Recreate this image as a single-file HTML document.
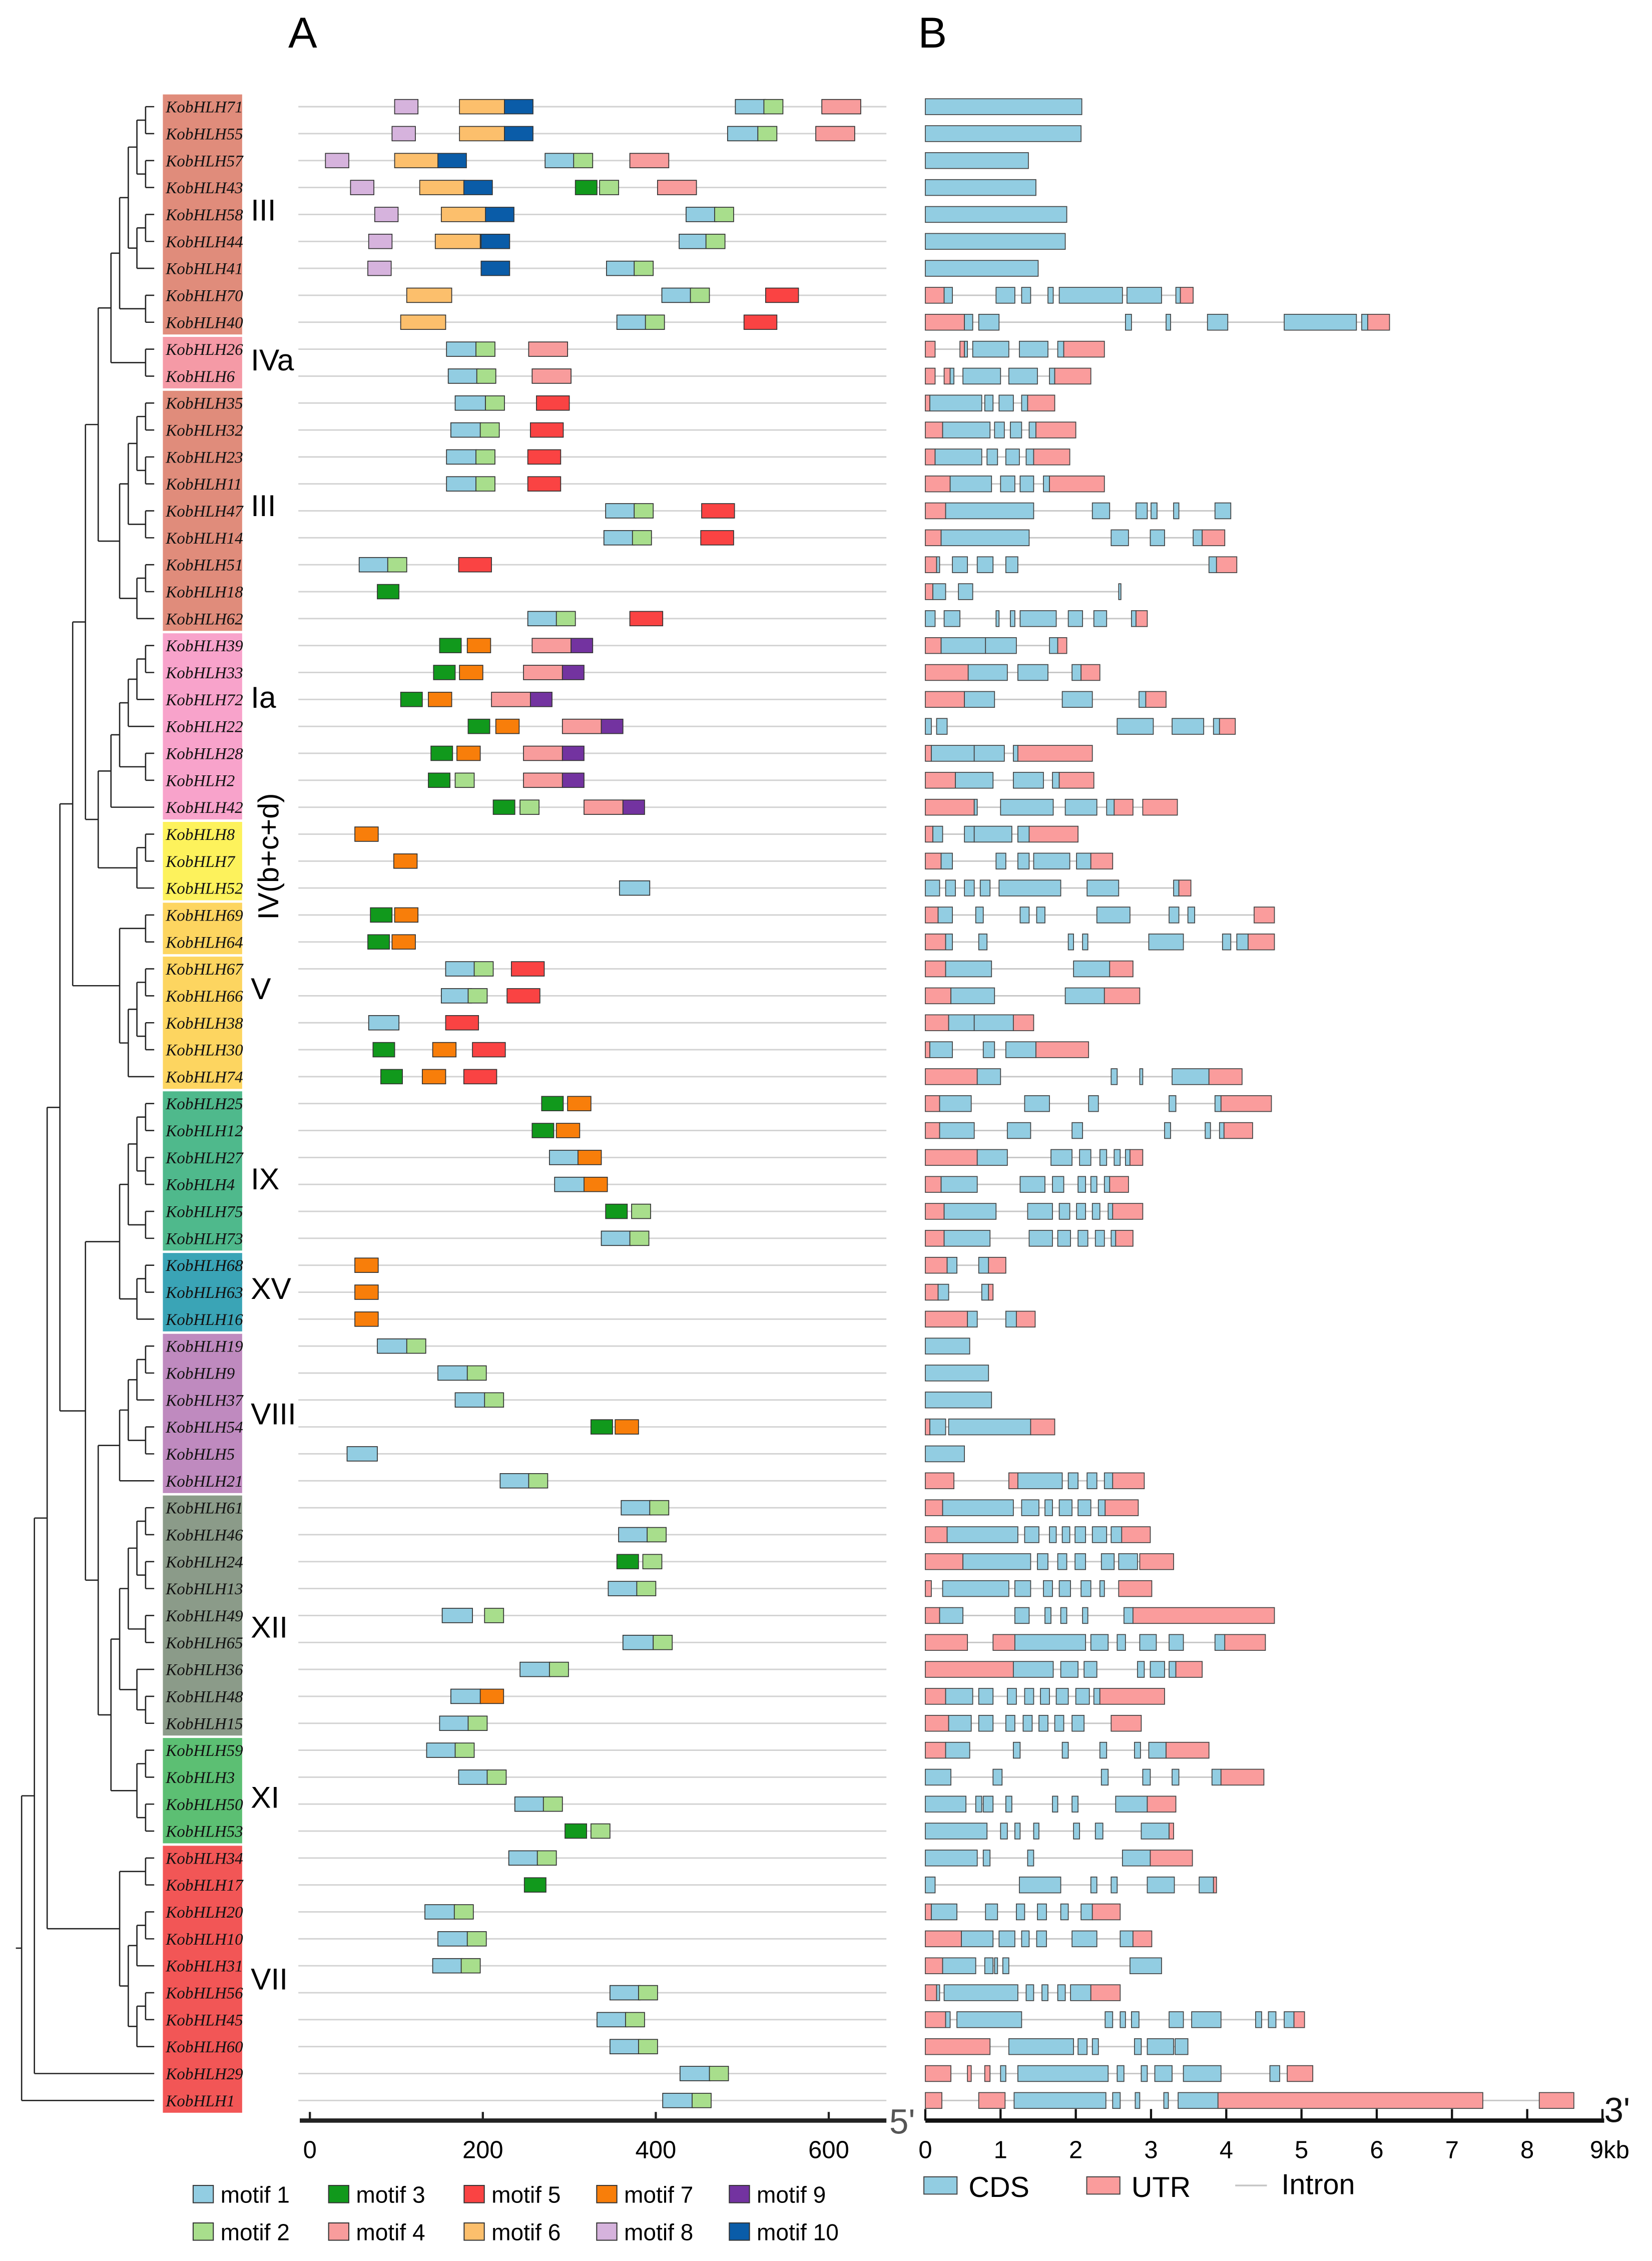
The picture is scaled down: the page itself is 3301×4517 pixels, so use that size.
<!DOCTYPE html>
<html><head><meta charset="utf-8"><style>
html,body{margin:0;padding:0;background:#fff;}
svg{display:block;}
</style></head><body>
<svg id="fig" xmlns="http://www.w3.org/2000/svg" width="3301" height="4517" viewBox="0 0 1146.18 1568.4">
<rect x="0" y="0" width="1146.18" height="1568.4" fill="#fff"/>
<g id="tree"></g>
<g id="labels"></g>
<g id="motifs"></g>
<g id="genes"></g>
<g id="static">
<text x="200" y="33" font-family="Liberation Sans, sans-serif" font-size="30">A</text>
<text x="637" y="33" font-family="Liberation Sans, sans-serif" font-size="30">B</text>
</g>
</svg>
<script>
const NS="http://www.w3.org/2000/svg";
const names=["KobHLH71","KobHLH55","KobHLH57","KobHLH43","KobHLH58","KobHLH44","KobHLH41","KobHLH70","KobHLH40","KobHLH26","KobHLH6","KobHLH35","KobHLH32","KobHLH23","KobHLH11","KobHLH47","KobHLH14","KobHLH51","KobHLH18","KobHLH62","KobHLH39","KobHLH33","KobHLH72","KobHLH22","KobHLH28","KobHLH2","KobHLH42","KobHLH8","KobHLH7","KobHLH52","KobHLH69","KobHLH64","KobHLH67","KobHLH66","KobHLH38","KobHLH30","KobHLH74","KobHLH25","KobHLH12","KobHLH27","KobHLH4","KobHLH75","KobHLH73","KobHLH68","KobHLH63","KobHLH16","KobHLH19","KobHLH9","KobHLH37","KobHLH54","KobHLH5","KobHLH21","KobHLH61","KobHLH46","KobHLH24","KobHLH13","KobHLH49","KobHLH65","KobHLH36","KobHLH48","KobHLH15","KobHLH59","KobHLH3","KobHLH50","KobHLH53","KobHLH34","KobHLH17","KobHLH20","KobHLH10","KobHLH31","KobHLH56","KobHLH45","KobHLH60","KobHLH29","KobHLH1"];
const groupNames=["III","IVa","III","Ia","IVb","IVc","V","IX","XV","VIII","XII","XI","VII"];
const groupRanges=[[0,8],[9,10],[11,19],[20,26],[27,29],[30,31],[32,36],[37,42],[43,45],[46,51],[52,60],[61,64],[65,74]];
const groupColors=["#e08c7b","#f59aa6","#e08c7b","#f8a3cb","#fdf25c","#fdd560","#fdd560","#4fb98c","#3aa4b6","#bf8abf","#8b9b89","#5cbf73","#f25656"];
const groupTitles=[["III",145],["IVa",249],["III",350],["Ia",483],["V",685],["IX",817],["XV",893],["VIII",980],["XII",1128],["XI",1246],["VII",1372]];
const motifColors=["#92cde2","#a8de8c","#11991c","#f89c9c","#fa4343","#fcbf6c","#f87e0a","#d6b3dd","#7333a0","#0a5ca8"];
const motifLen=[35,22,25,45,38,52,27,27,25,33];
const motifs=[
[[8,98],[6,173],[10,225],[1,492],[2,525],[4,592]],
[[8,95],[6,173],[10,225],[1,483],[2,518],[4,585]],
[[8,18],[6,98],[10,148],[1,272],[2,305],[4,370]],
[[8,47],[6,127],[10,178],[3,307],[2,335],[4,402]],
[[8,75],[6,152],[10,203],[1,435],[2,468]],
[[8,68],[6,145],[10,198],[1,427],[2,458]],
[[8,67],[10,198],[1,343],[2,375]],
[[6,112],[1,407],[2,440],[5,527]],
[[6,105],[1,355],[2,388],[5,502]],
[[1,158],[2,192],[4,253]],
[[1,160],[2,193],[4,257]],
[[1,168],[2,203],[5,262]],
[[1,163],[2,197],[5,255]],
[[1,158],[2,192],[5,252]],
[[1,158],[2,192],[5,252]],
[[1,342],[2,375],[5,453]],
[[1,340],[2,373],[5,452]],
[[1,57],[2,90],[5,172]],
[[3,78]],
[[1,252],[2,285],[5,370]],
[[3,150],[7,182],[4,257],[9,302]],
[[3,143],[7,173],[4,247],[9,292]],
[[3,105],[7,137],[4,210],[9,255]],
[[3,183],[7,215],[4,292],[9,337]],
[[3,140],[7,170],[4,247],[9,292]],
[[3,137],[2,168],[4,247],[9,292]],
[[3,212],[2,243],[4,317],[9,362]],
[[7,52]],
[[7,97]],
[[1,358]],
[[3,70],[7,98]],
[[3,67],[7,95]],
[[1,157],[2,190],[5,233]],
[[1,152],[2,183],[5,228]],
[[1,68],[5,157]],
[[3,73],[7,142],[5,188]],
[[3,82],[7,130],[5,178]],
[[3,268],[7,298]],
[[3,257],[7,285]],
[[1,277],[7,310]],
[[1,283],[7,317]],
[[3,342],[2,372]],
[[1,337],[2,370]],
[[7,52]],
[[7,52]],
[[7,52]],
[[1,78],[2,112]],
[[1,148],[2,182]],
[[1,168],[2,202]],
[[3,325],[7,353]],
[[1,43]],
[[1,220],[2,253]],
[[1,360],[2,393]],
[[1,357],[2,390]],
[[3,355],[2,385]],
[[1,345],[2,378]],
[[1,153],[2,202]],
[[1,362],[2,397]],
[[1,243],[2,277]],
[[1,163],[7,197]],
[[1,150],[2,183]],
[[1,135],[2,168]],
[[1,172],[2,205]],
[[1,237],[2,270]],
[[3,295],[2,325]],
[[1,230],[2,263]],
[[3,248]],
[[1,133],[2,167]],
[[1,148],[2,182]],
[[1,142],[2,175]],
[[1,347],[2,380]],
[[1,332],[2,365]],
[[1,347],[2,380]],
[[1,428],[2,462]],
[[1,408],[2,442]]];
const genes=[
[["C",0,2.08]],[["C",0,2.07]],[["C",0,1.37]],[["C",0,1.47]],[["C",0,1.88]],[["C",0,1.86]],[["C",0,1.5]],
[["U",0,0.25],["C",0.25,0.36],["C",0.94,1.19],["C",1.28,1.4],["C",1.63,1.7],["C",1.78,2.62],["C",2.68,3.14],["C",3.33,3.39],["U",3.39,3.56]],
[["U",0,0.52],["C",0.52,0.63],["C",0.71,0.98],["C",2.66,2.74],["C",3.2,3.26],["C",3.75,4.02],["C",4.77,5.73],["C",5.8,5.88],["U",5.88,6.17]],
[["U",0,0.13],["U",0.46,0.52],["C",0.52,0.56],["C",0.63,1.11],["C",1.25,1.63],["C",1.76,1.84],["U",1.84,2.38]],
[["U",0,0.13],["U",0.25,0.33],["C",0.33,0.38],["C",0.5,1.0],["C",1.11,1.49],["C",1.65,1.72],["U",1.72,2.2]],
[["U",0,0.06],["C",0.06,0.75],["C",0.79,0.9],["C",0.98,1.17],["C",1.28,1.36],["U",1.36,1.72]],
[["U",0,0.23],["C",0.23,0.86],["C",0.92,1.05],["C",1.13,1.28],["C",1.38,1.47],["U",1.47,2.0]],
[["U",0,0.13],["C",0.13,0.75],["C",0.82,0.96],["C",1.07,1.25],["C",1.34,1.44],["U",1.44,1.92]],
[["U",0,0.33],["C",0.33,0.88],["C",1.0,1.19],["C",1.26,1.44],["C",1.57,1.65],["U",1.65,2.38]],
[["U",0,0.27],["C",0.27,1.44],["C",2.22,2.45],["C",2.8,2.95],["C",3.0,3.08],["C",3.3,3.37],["C",3.85,4.06]],
[["U",0,0.21],["C",0.21,1.38],["C",2.47,2.7],["C",2.99,3.18],["C",3.56,3.68],["U",3.68,3.98]],
[["U",0,0.15],["C",0.15,0.19],["C",0.36,0.56],["C",0.69,0.9],["C",1.07,1.23],["C",3.77,3.87],["U",3.87,4.14]],
[["U",0,0.1],["C",0.1,0.27],["C",0.44,0.63],["C",2.57,2.6]],
[["C",0,0.13],["C",0.25,0.46],["C",0.94,0.98],["C",1.13,1.19],["C",1.26,1.74],["C",1.9,2.09],["C",2.24,2.41],["C",2.74,2.8],["U",2.8,2.95]],
[["U",0,0.21],["C",0.21,0.8],["C",0.8,1.21],["C",1.65,1.76],["U",1.76,1.88]],
[["U",0,0.57],["C",0.57,1.09],["C",1.23,1.63],["C",1.95,2.07],["U",2.07,2.32]],
[["U",0,0.52],["C",0.52,0.92],["C",1.82,2.22],["C",2.84,2.93],["U",2.93,3.2]],
[["C",0,0.08],["C",0.15,0.29],["C",2.55,3.03],["C",3.28,3.7],["C",3.83,3.91],["U",3.91,4.12]],
[["U",0,0.08],["C",0.08,0.65],["C",0.65,1.05],["C",1.17,1.23],["U",1.23,2.22]],
[["U",0,0.4],["C",0.4,0.9],["C",1.17,1.57],["C",1.69,1.78],["U",1.78,2.24]],
[["U",0,0.65],["C",0.65,0.69],["C",1.0,1.7],["C",1.86,2.28],["C",2.41,2.51],["U",2.51,2.76],["U",2.89,3.35]],
[["U",0,0.1],["C",0.1,0.23],["C",0.52,0.65],["C",0.65,1.15],["C",1.23,1.38],["U",1.38,2.03]],
[["U",0,0.21],["C",0.21,0.36],["C",0.94,1.07],["C",1.23,1.38],["C",1.44,1.92],["C",2.01,2.2],["U",2.2,2.49]],
[["C",0,0.19],["C",0.27,0.4],["C",0.52,0.65],["C",0.73,0.86],["C",0.98,1.8],["C",2.15,2.57],["C",3.3,3.37],["U",3.37,3.53]],
[["U",0,0.17],["C",0.17,0.36],["C",0.67,0.77],["C",1.26,1.38],["C",1.48,1.59],["C",2.28,2.72],["C",3.24,3.37],["C",3.49,3.58],["U",4.37,4.64]],
[["U",0,0.27],["C",0.27,0.36],["C",0.71,0.82],["C",1.9,1.97],["C",2.09,2.16],["C",2.97,3.43],["C",3.95,4.06],["C",4.14,4.29],["U",4.29,4.64]],
[["U",0,0.27],["C",0.27,0.88],["C",1.97,2.45],["U",2.45,2.76]],
[["U",0,0.34],["C",0.34,0.92],["C",1.86,2.38],["U",2.38,2.85]],
[["U",0,0.31],["C",0.31,0.65],["C",0.65,1.17],["U",1.17,1.44]],
[["U",0,0.06],["C",0.06,0.36],["C",0.77,0.92],["C",1.07,1.47],["U",1.47,2.17]],
[["U",0,0.69],["C",0.69,1.0],["C",2.47,2.55],["C",2.85,2.89],["C",3.28,3.77],["U",3.77,4.21]],
[["U",0,0.19],["C",0.19,0.61],["C",1.32,1.65],["C",2.17,2.3],["C",3.24,3.33],["C",3.85,3.93],["U",3.93,4.6]],
[["U",0,0.19],["C",0.19,0.65],["C",1.09,1.4],["C",1.95,2.09],["C",3.18,3.26],["C",3.72,3.79],["C",3.91,3.97],["U",3.97,4.35]],
[["U",0,0.69],["C",0.69,1.09],["C",1.67,1.95],["C",2.05,2.2],["C",2.32,2.41],["C",2.51,2.59],["C",2.66,2.72],["U",2.72,2.89]],
[["U",0,0.21],["C",0.21,0.69],["C",1.26,1.59],["C",1.69,1.84],["C",2.03,2.13],["C",2.2,2.28],["C",2.38,2.45],["U",2.45,2.7]],
[["U",0,0.25],["C",0.25,0.94],["C",1.36,1.69],["C",1.78,1.92],["C",2.01,2.13],["C",2.22,2.32],["C",2.43,2.49],["U",2.49,2.89]],
[["U",0,0.25],["C",0.25,0.86],["C",1.38,1.69],["C",1.76,1.93],["C",2.03,2.16],["C",2.26,2.38],["C",2.47,2.53],["U",2.53,2.76]],
[["U",0,0.29],["C",0.29,0.42],["C",0.71,0.84],["U",0.84,1.07]],
[["U",0,0.17],["C",0.17,0.31],["C",0.75,0.84],["U",0.84,0.9]],
[["U",0,0.56],["C",0.56,0.69],["C",1.07,1.21],["U",1.21,1.46]],
[["C",0,0.59]],[["C",0,0.84]],[["C",0,0.88]],
[["U",0,0.06],["C",0.06,0.27],["C",0.31,1.4],["U",1.4,1.72]],
[["C",0,0.52]],
[["U",0,0.38],["U",1.11,1.23],["C",1.23,1.82],["C",1.9,2.03],["C",2.15,2.28],["C",2.38,2.49],["U",2.49,2.91]],
[["U",0,0.23],["C",0.23,1.17],["C",1.28,1.51],["C",1.59,1.69],["C",1.78,1.95],["C",2.03,2.2],["C",2.3,2.39],["U",2.39,2.83]],
[["U",0,0.29],["C",0.29,1.23],["C",1.32,1.51],["C",1.65,1.74],["C",1.82,1.92],["C",1.99,2.13],["C",2.22,2.41],["C",2.47,2.61],["U",2.61,2.99]],
[["U",0,0.5],["C",0.5,1.4],["C",1.49,1.63],["C",1.76,1.88],["C",1.99,2.13],["C",2.34,2.51],["C",2.57,2.82],["U",2.85,3.3]],
[["U",0,0.08],["C",0.23,1.11],["C",1.19,1.4],["C",1.57,1.69],["C",1.78,1.93],["C",2.07,2.2],["C",2.32,2.38],["U",2.57,3.01]],
[["U",0,0.19],["C",0.19,0.5],["C",1.19,1.38],["C",1.59,1.67],["C",1.8,1.88],["C",2.09,2.16],["C",2.64,2.76],["U",2.76,4.64]],
[["U",0,0.56],["U",0.9,1.19],["C",1.19,2.13],["C",2.2,2.43],["C",2.55,2.66],["C",2.85,3.07],["C",3.24,3.43],["C",3.85,3.98],["U",3.98,4.52]],
[["U",0,1.17],["C",1.17,1.7],["C",1.8,2.03],["C",2.11,2.28],["C",2.82,2.91],["C",2.99,3.18],["C",3.24,3.33],["U",3.33,3.68]],
[["U",0,0.27],["C",0.27,0.63],["C",0.71,0.9],["C",1.09,1.21],["C",1.32,1.44],["C",1.53,1.65],["C",1.74,1.9],["C",2.0,2.18],["C",2.24,2.32],["U",2.32,3.18]],
[["U",0,0.31],["C",0.31,0.61],["C",0.71,0.9],["C",1.07,1.19],["C",1.3,1.42],["C",1.51,1.63],["C",1.72,1.84],["C",1.95,2.11],["U",2.47,2.87]],
[["U",0,0.27],["C",0.27,0.59],["C",1.17,1.26],["C",1.82,1.9],["C",2.32,2.41],["C",2.78,2.86],["C",2.97,3.2],["U",3.2,3.77]],
[["C",0,0.34],["C",0.9,1.02],["C",2.34,2.43],["C",2.89,2.99],["C",3.28,3.37],["C",3.81,3.93],["U",3.93,4.5]],
[["C",0,0.54],["C",0.67,0.75],["C",0.77,0.9],["C",1.07,1.15],["C",1.69,1.76],["C",1.95,2.03],["C",2.53,2.95],["U",2.95,3.33]],
[["C",0,0.82],["C",1.0,1.09],["C",1.19,1.26],["C",1.44,1.51],["C",1.97,2.05],["C",2.26,2.36],["C",2.87,3.24],["U",3.24,3.3]],
[["C",0,0.69],["C",0.77,0.86],["C",1.36,1.44],["C",2.62,2.99],["U",2.99,3.55]],
[["C",0,0.13],["C",1.25,1.8],["C",2.2,2.28],["C",2.47,2.55],["C",2.95,3.31],["C",3.64,3.83],["U",3.83,3.87]],
[["U",0,0.08],["C",0.08,0.42],["C",0.8,0.96],["C",1.21,1.32],["C",1.49,1.61],["C",1.8,1.9],["C",2.07,2.22],["U",2.22,2.59]],
[["U",0,0.48],["C",0.48,0.9],["C",0.98,1.19],["C",1.28,1.38],["C",1.48,1.61],["C",1.95,2.28],["C",2.59,2.76],["U",2.76,3.01]],
[["U",0,0.23],["C",0.23,0.67],["C",0.79,0.9],["C",0.92,0.96],["C",1.03,1.11],["C",2.72,3.14]],
[["U",0,0.15],["C",0.15,0.19],["C",0.25,1.23],["C",1.34,1.44],["C",1.55,1.63],["C",1.76,1.86],["C",1.93,2.2],["U",2.2,2.59]],
[["U",0,0.27],["C",0.27,0.33],["C",0.42,1.28],["C",2.39,2.49],["C",2.59,2.66],["C",2.74,2.84],["C",3.24,3.43],["C",3.54,3.93],["C",4.39,4.47],["C",4.56,4.66],["C",4.77,4.9],["U",4.9,5.04]],
[["U",0,0.86],["C",1.11,1.97],["C",2.03,2.15],["C",2.22,2.3],["C",2.78,2.87],["C",2.95,3.3],["C",3.32,3.49]],
[["U",0,0.34],["U",0.56,0.61],["U",0.79,0.86],["C",1.0,1.07],["C",1.23,2.43],["C",2.55,2.64],["C",2.87,2.95],["C",3.05,3.28],["C",3.43,3.93],["C",4.58,4.71],["U",4.81,5.15]],
[["U",0,0.22],["U",0.71,1.06],["C",1.18,2.4],["C",2.49,2.59],["C",2.79,2.85],["C",3.17,3.23],["C",3.36,3.89],["U",3.89,7.41],["U",8.16,8.62]]];
const motifTicks=[0,200,400,600];
const geneTicks=[0,1,2,3,4,5,6,7,8,9];
// tree topology (row indices)
const IIItop=[[[[[0,1],[2,3]],[[4,5],6]],[7,8]],[9,10]];
const IIIbot=[[[[11,12],[13,14]],[15,16]],[[17,18],19]];
const Ia=[[[[[20,21],22],23],[24,25]],26];
const IVb=[[27,28],29], IVc=[30,31], Vc=[[[32,33],[34,35]],36];
const IXc=[[[37,38],[39,40]],[41,42]], XVc=[[43,44],45];
const VIIIc=[[[[46,47],48],[49,50]],51];
const XIIc=[[[[52,53],[54,55]],[56,57]],[58,[59,60]]];
const XIc=[[61,62],[63,64]];
const VIIc=[[65,66],[[[67,68],69],[[70,71],72]]];
const treeTop=[[[[[[[IIItop,IIIbot],[Ia,IVb]],[IVc,Vc]],[[IXc,XVc],[VIIIc,[XIIc,XIc]]]],VIIc],73],74];

const rowY=i=>74+i*18.69;
const mx=aa=>215+0.6*aa;
const gx=kb=>642+52.2*kb;
function el(tag,attrs,parent){const e=document.createElementNS(NS,tag);for(const k in attrs)e.setAttribute(k,attrs[k]);parent.appendChild(e);return e;}

// tree
const gTree=document.getElementById('tree');
function height(n){return Array.isArray(n)?1+Math.max(...n.map(height)):0;}
const H=height(treeTop);
function hx(h){return h<=5?107-6*h:77-(h-5)*(62/(H-5));}
function drawNode(n){
  if(!Array.isArray(n)) return {x:107,y:rowY(n)};
  const kids=n.map(drawNode);
  const x=hx(height(n));
  const ys=kids.map(k=>k.y);
  const v=el('line',{x1:x,x2:x,y1:Math.min(...ys),y2:Math.max(...ys),stroke:'#222','stroke-width':0.9},gTree);
  
  
  kids.forEach(k=>{const hl=el('line',{x1:x,x2:k.x,y1:k.y,y2:k.y,stroke:'#222','stroke-width':0.9},gTree);
    
    });
  return {x:x,y:(Math.min(...ys)+Math.max(...ys))/2};
}
const rootN=drawNode(treeTop);
const rl=el('line',{x1:rootN.x-4,x2:rootN.x,y1:rootN.y,y2:rootN.y,stroke:'#222','stroke-width':0.9},gTree);



// labels
const gLab=document.getElementById('labels');
groupRanges.forEach((r,gi)=>{
  const y0=rowY(r[0])-9.3, y1=rowY(r[1])+9.3;
  const b=el('rect',{x:113,y:y0+0.8,width:55,height:y1-y0-1.6,fill:groupColors[gi]},gLab);
  
  
});
names.forEach((n,i)=>{
  const t=el('text',{x:115,y:rowY(i)+4,'font-family':'Liberation Serif, serif','font-style':'italic','font-size':11.5,fill:'#111'},gLab);
  t.textContent=n;
  
  
});
groupTitles.forEach(g=>{
  const t=el('text',{x:174,y:g[1]+8,'font-family':'Liberation Sans, sans-serif','font-size':21,fill:'#000'},gLab);
  t.textContent=g[0];
  
  
});
const vt=el('text',{x:0,y:0,transform:'translate(193,638) rotate(-90)','font-family':'Liberation Sans, sans-serif','font-size':20,fill:'#000'},gLab);
vt.textContent='IV(b+c+d)';



// motifs
const gM=document.getElementById('motifs');
motifs.forEach((row,i)=>{
  const y=rowY(i);
  const l=el('line',{x1:207,x2:615,y1:y,y2:y,stroke:'#d2d2d2','stroke-width':1},gM);
  
  
  row.forEach(m=>{
    const r=el('rect',{x:mx(m[1]),y:y-5,width:0.6*motifLen[m[0]-1],height:10,fill:motifColors[m[0]-1],stroke:'#333','stroke-width':0.6},gM);
    
    
  });
});
const ma=el('line',{x1:208,x2:615,y1:1471,y2:1471,stroke:'#222','stroke-width':3},gM);


motifTicks.forEach(v=>{
  const tk=el('line',{x1:mx(v),x2:mx(v),y1:1471,y2:1465,stroke:'#222','stroke-width':1.5},gM);
  
  
  const t=el('text',{x:mx(v),y:1497,'text-anchor':'middle','font-family':'Liberation Sans, sans-serif','font-size':17},gM);
  t.textContent=v;
  
  
});
const five=el('text',{x:617,y:1480,'font-family':'Liberation Sans, sans-serif','font-size':24,fill:'#555'},gM);
five.textContent="5'";



// genes
const gG=document.getElementById('genes');
genes.forEach((row,i)=>{
  const y=rowY(i);
  const s=row[0][1], e=row[row.length-1][2];
  const l=el('line',{x1:gx(s),x2:gx(e),y1:y,y2:y,stroke:'#c6c6c6','stroke-width':1},gG);
  
  
  row.forEach(seg=>{
    const r=el('rect',{x:gx(seg[1]),y:y-5.5,width:Math.max(0.8,52.2*(seg[2]-seg[1])),height:11,fill:seg[0]==='C'?'#92cde2':'#fa9c9c',stroke:'#444','stroke-width':0.6},gG);
    
    
  });
});
const ga=el('line',{x1:642,x2:1113,y1:1471,y2:1471,stroke:'#111','stroke-width':3},gG);


geneTicks.forEach(v=>{
  const tk=el('line',{x1:gx(v),x2:gx(v),y1:1471,y2:1463,stroke:'#111','stroke-width':1.5},gG);
  
  
  const t=el('text',{x:gx(v)+(v===9?5:0),y:1497,'text-anchor':'middle','font-family':'Liberation Sans, sans-serif','font-size':17},gG);
  t.textContent=v===9?'9kb':v;
  
  
});
const three=el('text',{x:1113,y:1472,'font-family':'Liberation Sans, sans-serif','font-size':24,fill:'#111'},gG);
three.textContent="3'";



// legends
const gS=document.getElementById('static');
const legendOrder=[[1,134,1523],[3,228,1523],[5,322,1523],[7,414,1523],[9,506,1523],[2,134,1549],[4,228,1549],[6,322,1549],[8,414,1549],[10,506,1549]];
legendOrder.forEach(L=>{
  const r=el('rect',{x:L[1],y:L[2]-7,width:14,height:12,fill:motifColors[L[0]-1],stroke:'#333','stroke-width':0.7},gS);
  
  
  const t=el('text',{x:L[1]+19,y:L[2]+5,'font-family':'Liberation Sans, sans-serif','font-size':16},gS);
  t.textContent='motif '+L[0];
  
  
});
const gl=[[641,'#92cde2','CDS',672],[754,'#fa9c9c','UTR',785]];
gl.forEach(L=>{
  const r=el('rect',{x:L[0],y:1510,width:23,height:12,fill:L[1],stroke:'#444','stroke-width':0.7},gS);
  
  
  const t=el('text',{x:L[3],y:1524,'font-family':'Liberation Sans, sans-serif','font-size':20},gS);
  t.textContent=L[2];
  
  
});
const il=el('line',{x1:857,x2:879,y1:1516,y2:1516,stroke:'#c6c6c6','stroke-width':1.2},gS);


const it=el('text',{x:889,y:1522,'font-family':'Liberation Sans, sans-serif','font-size':20},gS);
it.textContent='Intron';


</script>
</body></html>
